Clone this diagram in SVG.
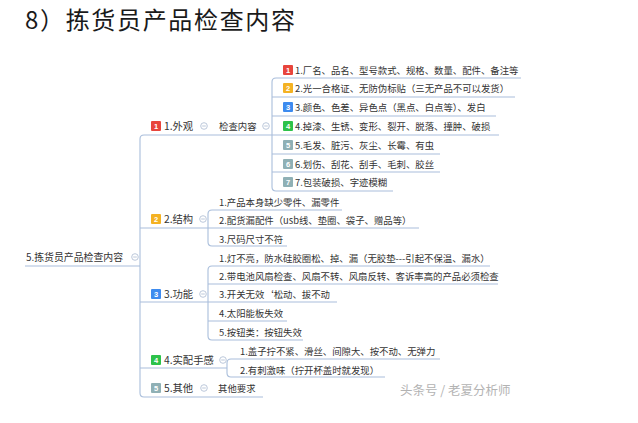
<svg xmlns="http://www.w3.org/2000/svg" width="638" height="423" viewBox="0 0 638 423">
<style>
text{font-family:"Noto Sans CJK SC","Noto Sans",sans-serif;fill:#333}
.t{font-size:24px;fill:#1a1a1a}
.r{font-size:9.9px}
.b{font-size:10.3px}
.i{font-size:9.4px}
.n{font-size:7.5px;fill:#fff;text-anchor:middle;font-family:"Liberation Sans",sans-serif;font-weight:bold}
.w{font-size:12.5px;fill:#b3b3b3}
.ln{fill:none;stroke:#a9bedb;stroke-width:1.1}
.ic{fill:none;stroke:#b4c2d6;stroke-width:0.9}
.c1{fill:#e8453c}.c2{fill:#f4b223}.c3{fill:#3d8bef}.c4{fill:#2dc24a}.c5{fill:#8fb0b5}
</style>
<defs>
<g id="icon"><circle r="3.3" class="ic"/><line x1="-1.8" x2="1.8" y1="0" y2="0" class="ic"/></g>
</defs>
<rect width="638" height="423" fill="#fff"/>
<text class="t" x="25" y="28.5" textLength="270" lengthAdjust="spacing">8）拣货员产品检查内容</text>

<g id="connectors">
<path class="ln" d="M25 266H140"/>
<path class="ln" d="M210 135H144Q140 135 140 139V393Q140 397 144 397H263"/>
<path class="ln" d="M140 228H208M140 302H208M140 368H227"/>
<path class="ln" d="M210 135H272"/>
<path class="ln" d="M521 78H276Q272 78 272 82V187Q272 191 276 191H393"/>
<path class="ln" d="M272 97H515M272 116H496M272 135H499M272 154H440M272 172H440"/>
<path class="ln" d="M342 210H212Q208 210 208 214V242Q208 246 212 246H287M208 228H419"/>
<path class="ln" d="M490 266H212Q208 266 208 270V336Q208 340 212 340H303M208 284H498M208 302H337M208 321H287"/>
<path class="ln" d="M440 359H231Q227 359 227 363V373Q227 377 231 377H385"/>
</g>

<g id="root">
<text class="r" x="26" y="261">5.拣货员产品检查内容</text>
<use href="#icon" x="135" y="257"/>
</g>

<g id="b1">
<rect x="151" y="121" width="10" height="10" rx="1" class="c1"/><text class="n" x="156" y="129">1</text>
<text class="b" x="164" y="130">1.外观</text>
<use href="#icon" x="204" y="126"/>
</g>
<g id="b1-sub">
<text class="i" x="219" y="130">检查内容</text>
<use href="#icon" x="266" y="126"/>
</g>
<g id="b1-items">
<rect x="283" y="65" width="10" height="10" rx="1" class="c1"/><text class="n" x="288" y="73">1</text>
<text class="i" x="295" y="73.5">1.厂名、品名、型号款式、规格、数量、配件、备注等</text>
<rect x="283" y="83" width="10" height="10" rx="1" class="c2"/><text class="n" x="288" y="91">2</text>
<text class="i" x="295" y="91.5">2.光一合格证、无防伪标贴（三无产品不可以发货）</text>
<rect x="283" y="102" width="10" height="10" rx="1" class="c3"/><text class="n" x="288" y="110">3</text>
<text class="i" x="295" y="110.5">3.颜色、色差、异色点（黑点、白点等）、发白</text>
<rect x="283" y="121" width="10" height="10" rx="1" class="c4"/><text class="n" x="288" y="129">4</text>
<text class="i" x="295" y="129.5">4.掉漆、生锈、变形、裂开、脱落、撞肿、破损</text>
<rect x="283" y="140" width="10" height="10" rx="1" class="c5"/><text class="n" x="288" y="148">5</text>
<text class="i" x="295" y="148.5">5.毛发、脏污、灰尘、长霉、有虫</text>
<rect x="283" y="159" width="10" height="10" rx="1" class="c5"/><text class="n" x="288" y="167">6</text>
<text class="i" x="295" y="167.5">6.划伤、刮花、刮手、毛刺、胶丝</text>
<rect x="283" y="177" width="10" height="10" rx="1" class="c5"/><text class="n" x="288" y="185">7</text>
<text class="i" x="295" y="185.5">7.包装破损、字迹模糊</text>
</g>

<g id="b2">
<rect x="151" y="214" width="10" height="10" rx="1" class="c2"/><text class="n" x="156" y="222">2</text>
<text class="b" x="164" y="223">2.结构</text>
<use href="#icon" x="203" y="219"/>
<text class="i" x="219" y="205.5">1.产品本身缺少零件、漏零件</text>
<text class="i" x="219" y="223.5">2.配货漏配件（usb线、垫圈、袋子、赠品等）</text>
<text class="i" x="219" y="242.5">3.尺码尺寸不符</text>
</g>

<g id="b3">
<rect x="151" y="289" width="10" height="10" rx="1" class="c3"/><text class="n" x="156" y="297">3</text>
<text class="b" x="164" y="298">3.功能</text>
<use href="#icon" x="203" y="294"/>
<text class="i" x="219" y="261.5">1.灯不亮，防水硅胶圈松、掉、漏（无胶垫---引起不保温、漏水）</text>
<text class="i" x="219" y="279.5">2.带电池风扇检查、风扇不转、风扇反转、客诉率高的产品必须检查</text>
<text class="i" x="219" y="297.5">3.开关无效‘松动、拔不动</text>
<text class="i" x="219" y="316.5">4.太阳能板失效</text>
<text class="i" x="219" y="335.5">5.按钮类：按钮失效</text>
</g>

<g id="b4">
<rect x="151" y="355" width="10" height="10" rx="1" class="c4"/><text class="n" x="156" y="363">4</text>
<text class="b" x="164" y="364">4.实配手感</text>
<use href="#icon" x="223" y="360"/>
<text class="i" x="240" y="354.5">1.盖子拧不紧、滑丝、间隙大、按不动、无弹力</text>
<text class="i" x="240" y="373.5">2.有刺激味（拧开杯盖时就发现）</text>
</g>

<g id="b5">
<rect x="151" y="383" width="10" height="10" rx="1" class="c5"/><text class="n" x="156" y="391">5</text>
<text class="b" x="164" y="392">5.其他</text>
<use href="#icon" x="204" y="388"/>
<text class="i" x="218" y="391.5">其他要求</text>
</g>

<text class="w" x="400" y="394.5">头条号 / 老夏分析师</text>
</svg>
